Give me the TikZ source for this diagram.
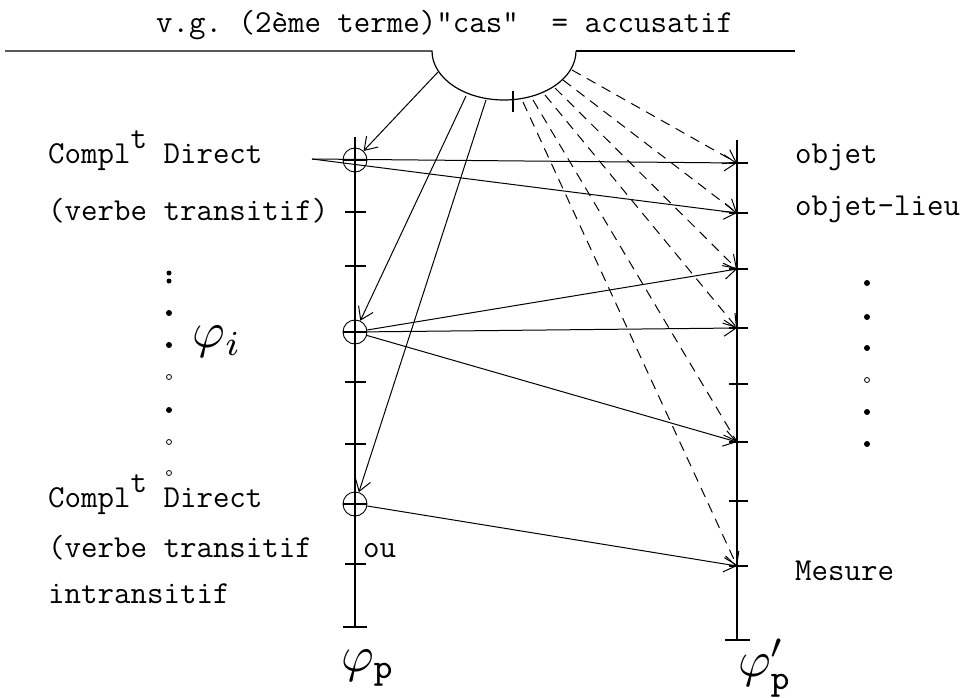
\documentclass[tikz,border=0pt]{standalone}
\usepackage{fontspec}
\usetikzlibrary{arrows.meta}

\begin{document}
\frenchspacing
\begin{tikzpicture}[x=1pt,y=-1pt]
   \tikzstyle{txt}=[font=\ttfamily\fontsize{32}{32}\selectfont,inner sep=0pt,anchor=base west]
   \tikzstyle{axe}=[line width=1.2pt]
   \tikzstyle{fl}=[line width=1pt,-{Straight Barb[length=12pt,width=16pt,line width=1pt]}]
   \tikzstyle{fltir}=[fl,dash pattern=on 10pt off 7pt]
   \tikzstyle{rond}=[circle,draw,line width=0.9pt,minimum size=24pt,inner sep=0pt]
   \useasboundingbox (0,0) rectangle (971,698);

   % titre et ligne du haut
   \node[txt] (titre) at (156,33) {v.g. (2ème terme)"cas"\ \ = accusatif};
   \coordinate (g) at (5,51);
   \coordinate (a) at (432,51);
   \coordinate (b) at (576,51);
   \coordinate (d) at (795,51);
   \draw[axe] (g) -- (a) arc[start angle=180,end angle=0,x radius=72,y radius=49];
   \draw[axe] (b) -- (d);
   \draw[axe] (513,91) -- (513,112);

   % axe de gauche
   \coordinate (lh) at (355,137);
   \coordinate (lb) at (355,627);
   \draw[axe] (lh) -- (lb);
   \draw[axe] (343,627) -- (367,627);
   \draw[axe] (345,212) -- (366,212);
   \draw[axe] (345,266) -- (366,266);
   \draw[axe] (345,382) -- (366,382);
   \draw[axe] (345,444) -- (366,444);
   \draw[axe] (345,564) -- (366,564);
   \node[rond] (c1) at (355,160) {};
   \node[rond] (c2) at (355,332) {};
   \node[rond] (c3) at (355,504) {};
   \draw[axe] (c1.west) -- (c1.east);
   \draw[axe] (c2.west) -- (c2.east);
   \draw[axe] (c3.west) -- (c3.east);

   % axe de droite
   \coordinate (rh) at (737,140);
   \coordinate (rb) at (737,640);
   \draw[axe] (rh) -- (rb);
   \draw[axe] (725,640) -- (750,640);
   \coordinate (r1) at (737,163);
   \coordinate (r2) at (737,213);
   \coordinate (r3) at (737,269);
   \coordinate (r4) at (737,328);
   \coordinate (r5) at (737,384);
   \coordinate (r6) at (737,442);
   \coordinate (r7) at (737,501);
   \coordinate (r8) at (737,566);
   \draw[axe] (729,163) -- (748,163);
   \draw[axe] (729,213) -- (748,213);
   \draw[axe] (729,269) -- (748,269);
   \draw[axe] (729,328) -- (748,328);
   \draw[axe] (729,384) -- (748,384);
   \draw[axe] (729,442) -- (748,442);
   \draw[axe] (729,501) -- (748,501);
   \draw[axe] (729,566) -- (748,566);

   % departs des fleches
   \coordinate (o1) at (312,159);
   \coordinate (a0) at (438,72);
   \coordinate (a1) at (466,96);
   \coordinate (a2) at (486,100);
   \coordinate (d1) at (572,70);
   \coordinate (d2) at (563,80);
   \coordinate (d3) at (555,88);
   \coordinate (d4) at (545,95);
   \coordinate (d5) at (533,100);
   \coordinate (d6) at (523,102);

   \draw[fl] (a0) -- (c1);
   \draw[fl] (a1) -- (c2);
   \draw[fl] (a2) -- (c3);
   \draw[fl] (o1) -- (r1);
   \draw[fl] (o1) -- (r2);
   \draw[fl] (c2) -- (r3);
   \draw[fl] (c2) -- (r4);
   \draw[fl] (c2) -- (r6);
   \draw[fl] (c3) -- (r8);
   \draw[fltir] (d1) -- (r1);
   \draw[fltir] (d2) -- (r2);
   \draw[fltir] (d3) -- (r3);
   \draw[fltir] (d4) -- (r4);
   \draw[fltir] (d5) -- (r6);
   \draw[fltir] (d6) -- (r8);

   % textes
   \node[txt] (cd1) at (48,163) {Compl\raisebox{15pt}{t} Direct};
   \node[txt] (vt1) at (48,220) {(verbe transitif)};
   \node[txt] (cd2) at (48,507) {Compl\raisebox{15pt}{t} Direct};
   \node[txt] (vt2) at (48,557) {(verbe transitif};
   \node[txt] (ou) at (363,557) {ou};
   \node[txt] (it) at (48,603) {intransitif};
   \node[txt] (ob) at (795,163) {objet};
   \node[txt] (ol) at (795,215) {objet-lieu};
   \node[txt] (me) at (795,580) {Mesure};
   \node[scale=5] (fi) at (217,342) {$\varphi_i$};
   \node[scale=5] (fp) at (368,668) {$\varphi_{\mathtt{p}}$};
   \node[scale=5] (fq) at (765,668) {$\varphi'_{\mathtt{p}}$};

   % points
   \fill (169,273) circle[radius=2.5pt];
   \fill (169,281) circle[radius=2.5pt];
   \fill (169,313) circle[radius=3pt];
   \fill (169,345) circle[radius=3pt];
   \draw[line width=0.8pt] (169,377) circle[radius=2.5pt];
   \fill (169,410) circle[radius=3pt];
   \draw[line width=0.8pt] (169,442) circle[radius=2.5pt];
   \draw[line width=0.8pt] (169,473) circle[radius=2.5pt];
   \fill (867,283) circle[radius=3pt];
   \fill (867,317) circle[radius=3pt];
   \fill (867,348) circle[radius=3pt];
   \draw[line width=0.8pt] (867,380) circle[radius=2.5pt];
   \fill (867,412) circle[radius=3pt];
   \fill (867,444) circle[radius=3pt];
\end{tikzpicture}
\end{document}
